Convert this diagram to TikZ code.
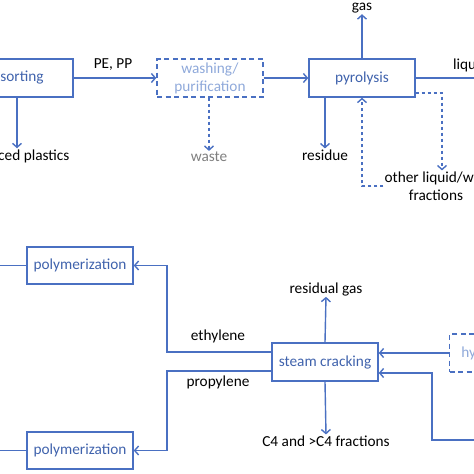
\documentclass[tikz,border=0pt]{standalone}
\usepackage{fontspec}
\setmainfont{Carlito}
\usepackage{tikz}
\usetikzlibrary{positioning, arrows.meta}

\definecolor{flowblue}{HTML}{4A70C2}
\definecolor{boxtext}{HTML}{3F62AC}
\definecolor{paletext}{HTML}{8FA9DA}
\definecolor{wastegray}{HTML}{7F7F7F}

\begin{document}
\begin{tikzpicture}[x=1pt, y=-1pt,
    every node/.style={font=\fontsize{15.3}{18}\selectfont},
    unit/.style={draw=flowblue, line width=1.4pt, text=boxtext, minimum width=106pt, minimum height=38pt, inner sep=0pt},
    optunit/.style={unit, dash pattern=on 5pt off 3.5pt, text=paletext, align=center},
    lbl/.style={inner sep=1pt, text=black},
    flow/.style={draw=flowblue, line width=1.4pt, -{Straight Barb[length=4pt, width=9pt]}},
    line/.style={draw=flowblue, line width=1.4pt},
    optflow/.style={flow, dash pattern=on 3.5pt off 2.5pt}]
            \useasboundingbox (0,0) rectangle (474,474);
            % upper chain
            \node[unit, minimum width=102pt] (sorting) at (22,78) {sorting};
            \node[optunit] (washing) at (210,78) {washing/\\purification};
            \node[unit] (pyrolysis) at (362,78) {pyrolysis};
            \node[lbl, anchor=west] (plastics) at (-3,156) {ced plastics};
            \node[lbl] (pepp) at (113,65) {PE, PP};
            \node[lbl, text=wastegray] (waste) at (209,157) {waste};
            \node[lbl] (gas) at (362,8) {gas};
            \node[lbl] (residue) at (325,155) {residue};
            \node[lbl, anchor=west] (liquid) at (452,65) {liquid};
            \node[lbl, align=center] (other) at (436,186) {other liquid/wax\\fractions};
            \coordinate (liquidout) at (476,78);
            \draw[flow] ([xshift=-5pt]sorting.south) -- ([xshift=-5pt]sorting.south |- plastics.north);
            \draw[flow] (sorting.east) -- (washing.west);
            \draw[optflow] (washing.south -| waste.north) -- (waste.north);
            \draw[flow] (washing.east) -- (pyrolysis.west);
            \draw[flow] (pyrolysis.north) -- (gas.south);
            \draw[flow] (pyrolysis.south -| residue.north) -- (residue.north);
            \draw[line] (pyrolysis.east) -- (liquidout);
            \draw[optflow] ([yshift=-15pt]pyrolysis.east) -| ([xshift=6pt]other.north);
            \draw[optflow] (other.west) -| (pyrolysis.south);
            % lower chain
            \node[unit, minimum height=37pt] (polyA) at (80,265.5) {polymerization};
            \node[unit, minimum height=37pt] (polyB) at (80,450.5) {polymerization};
            \node[unit] (steam) at (325,362) {steam cracking};
            \node[optunit, anchor=west, minimum width=108pt] (hydro) at (449,353) {hydrotreating};
            \node[lbl] (resgas) at (326,289) {residual gas};
            \node[lbl] (cfour) at (326,441) {C4 and >C4 fractions};
            \node[lbl] (ethylene) at (218,336) {ethylene};
            \node[lbl] (propylene) at (218,382) {propylene};
            \coordinate (polyAout) at (-2,265.5);
            \coordinate (polyBout) at (-2,450.5);
            \coordinate (split) at (167,362);
            \coordinate (riser) at (432,362);
            \coordinate (feed) at (476,440);
            \coordinate (ethout) at ([yshift=10pt]steam.west);
            \coordinate (propout) at ([yshift=-9pt]steam.west);
            \coordinate (feedin) at ([yshift=-11pt]steam.east);
            \draw[line] (polyA.west) -- (polyAout);
            \draw[line] (polyB.west) -- (polyBout);
            \draw[flow] (ethout) -- (split |- ethout) |- (polyA.east);
            \draw[flow] (propout) -- (split |- propout) |- (polyB.east);
            \draw[flow] (steam.north) -- (resgas.south);
            \draw[flow] (steam.south) -- (cfour.north);
            \draw[flow] (hydro.west) -- (hydro.west -| steam.east);
            \draw[flow] (feed) -| (riser |- feedin) -- (feedin);
        \end{tikzpicture}
\end{document}
